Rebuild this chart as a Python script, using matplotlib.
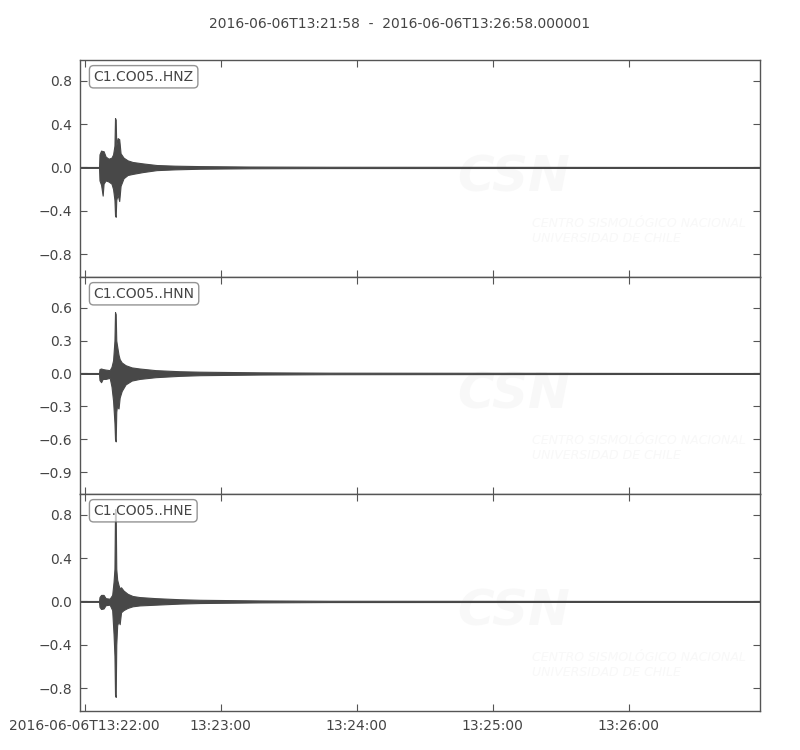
import matplotlib
matplotlib.use("Agg")
import matplotlib.pyplot as plt
import numpy as np

# ---- data (seconds after 2016-06-06T13:21:58, envelope of each trace) ----
title_text = "2016-06-06T13:21:58  -  2016-06-06T13:26:58.000001"
channels = ["C1.CO05..HNZ", "C1.CO05..HNN", "C1.CO05..HNE"]

hnz_t = [0, 8.4, 8.6, 9.3, 10.0, 10.4, 11.3, 12.6, 13.9, 14.6, 15.2, 15.45, 15.75, 16.0, 16.6,
         17.3, 17.9, 19.2, 21.0, 23.2, 27.7, 33.8, 41.8, 52.9, 75, 110, 300]
hnz_up = [0.004, 0.004, 0.12, 0.155, 0.15, 0.15, 0.10, 0.08, 0.09, 0.12, 0.20, 0.455, 0.44, 0.20, 0.27,
          0.26, 0.13, 0.09, 0.065, 0.05, 0.037, 0.022, 0.016, 0.012, 0.008, 0.006, 0.004]
hnz_lo = [-0.004, -0.004, -0.12, -0.16, -0.26, -0.15, -0.12, -0.13, -0.15, -0.20, -0.30, -0.44, -0.455, -0.30, -0.25,
          -0.31, -0.17, -0.10, -0.07, -0.06, -0.043, -0.025, -0.018, -0.012, -0.008, -0.006, -0.004]

hnn_t = [0, 8.4, 8.6, 9.3, 10.0, 11.3, 13.1, 13.9, 14.6, 15.2, 15.45, 15.75, 16.0, 16.3, 17.0,
         17.5, 18.4, 20.1, 22.8, 26.3, 33.4, 44, 52.9, 79.4, 110, 300]
hnn_up = [0.004, 0.004, 0.04, 0.045, 0.04, 0.035, 0.03, 0.06, 0.12, 0.30, 0.56, 0.54, 0.30, 0.26, 0.17,
          0.13, 0.10, 0.075, 0.055, 0.045, 0.03, 0.02, 0.016, 0.01, 0.007, 0.004]
hnn_lo = [-0.004, -0.004, -0.06, -0.08, -0.05, -0.05, -0.04, -0.12, -0.25, -0.45, -0.60, -0.62, -0.35, -0.30, -0.32,
          -0.22, -0.16, -0.10, -0.065, -0.05, -0.034, -0.022, -0.016, -0.01, -0.007, -0.004]

hne_t = [0, 8.4, 8.6, 9.3, 10.4, 11.3, 13.1, 14.2, 14.8, 15.2, 15.45, 15.75, 16.0, 16.4, 17.0,
         17.5, 18.1, 19.2, 21.0, 23.2, 26.3, 33.4, 44, 52.9, 79, 110, 300]
hne_up = [0.004, 0.004, 0.04, 0.06, 0.06, 0.03, 0.025, 0.06, 0.18, 0.30, 0.85, 0.82, 0.30, 0.20, 0.15,
          0.12, 0.13, 0.10, 0.07, 0.05, 0.04, 0.03, 0.02, 0.015, 0.009, 0.006, 0.004]
hne_lo = [-0.004, -0.004, -0.05, -0.07, -0.065, -0.035, -0.03, -0.08, -0.30, -0.50, -0.86, -0.88, -0.40, -0.22, -0.18,
          -0.21, -0.10, -0.08, -0.06, -0.045, -0.037, -0.03, -0.02, -0.015, -0.009, -0.006, -0.004]

ylims = [(-1.01, 0.99), (-1.10, 0.88), (-1.01, 0.99)]
yticks = [[-0.8, -0.4, 0.0, 0.4, 0.8],
          [-0.9, -0.6, -0.3, 0.0, 0.3, 0.6],
          [-0.8, -0.4, 0.0, 0.4, 0.8]]
xtick_pos = [2, 62, 122, 182, 242]
xtick_labels = ["2016-06-06T13:22:00", "13:23:00", "13:24:00", "13:25:00", "13:26:00"]
x_range = (0, 300)

traces = [(hnz_t, hnz_up, hnz_lo), (hnn_t, hnn_up, hnn_lo), (hne_t, hne_up, hne_lo)]

# ---- styling ----
trace_color = "#484848"
spine_color = "#555555"
text_color = "#444444"
wm_color = "#f8f8f8"

fig = plt.figure(figsize=(8, 7.5), dpi=100)
fig.subplots_adjust(left=0.1, right=0.95, top=0.92, bottom=0.052, hspace=0)
axes = fig.subplots(3, 1, sharex=True)

def fmt(v):
    s = f"{v:.1f}"
    return s.replace("-", "\u2212")

for i, ax in enumerate(axes):
    t, up, lo = traces[i]
    # faint watermark
    ax.text(0.555, 0.35, "CSN", transform=ax.transAxes, fontsize=36, fontweight="bold",
            fontstyle="italic", color=wm_color, ha="left", va="bottom", zorder=0, clip_on=True)
    ax.text(0.665, 0.21, "CENTRO SISMOLÓGICO NACIONAL\nUNIVERSIDAD DE CHILE",
            transform=ax.transAxes, fontsize=9, fontstyle="italic", color=wm_color,
            ha="left", va="center", linespacing=1.2, zorder=0, clip_on=True)

    ax.fill_between(t, lo, up, color=trace_color, lw=0.8, edgecolor=trace_color, zorder=2)
    ax.set_xlim(*x_range)
    ax.set_ylim(*ylims[i])
    ax.set_yticks(yticks[i])
    ax.set_yticklabels([fmt(v) for v in yticks[i]])
    ax.set_xticks(xtick_pos)
    ax.tick_params(direction="in", top=True, right=True, length=5, width=0.8,
                   color=spine_color, labelcolor=text_color, labelsize=10, pad=6)
    for s in ax.spines.values():
        s.set_color(spine_color)
        s.set_linewidth(1.0)
    ax.text(0.02, 0.955, channels[i], transform=ax.transAxes, fontsize=10, color=text_color,
            ha="left", va="top", zorder=5,
            bbox=dict(boxstyle="round,pad=0.3", fc="white", ec="#666666", lw=1.0, alpha=0.7))
    if i < 2:
        ax.tick_params(labelbottom=False)

axes[-1].set_xticklabels(xtick_labels)
fig.suptitle(title_text, y=0.978, fontsize=10, color=text_color)

fig.savefig("out.png", dpi=100)
